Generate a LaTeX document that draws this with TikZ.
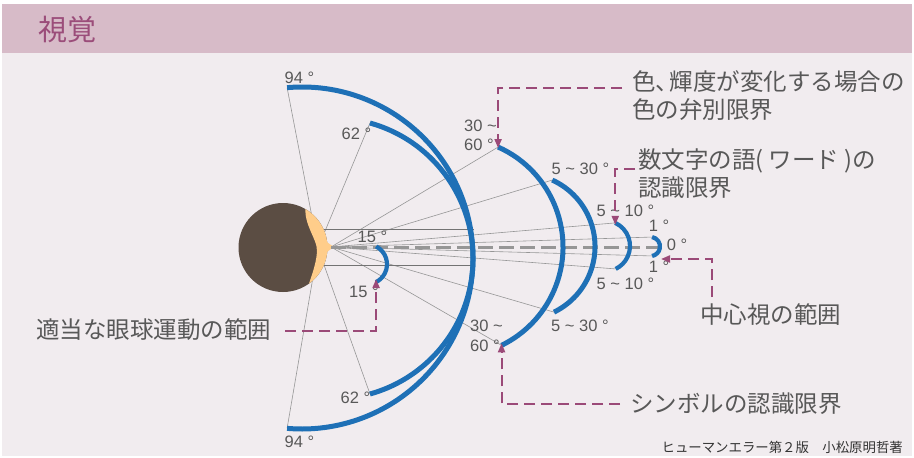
\documentclass[tikz,border=0pt]{standalone}
\usepackage{fontspec}
\setmainfont{Liberation Sans}
\newfontfamily\jp{Noto Sans CJK JP}
\usetikzlibrary{arrows.meta}
\definecolor{pagebg}{RGB}{241,236,239}
\definecolor{band}{RGB}{215,187,200}
\definecolor{titlec}{RGB}{155,77,122}
\definecolor{arcblue}{RGB}{30,112,182}
\definecolor{txt}{RGB}{88,88,88}
\definecolor{calloutc}{RGB}{155,74,120}
\definecolor{hair}{RGB}{91,77,67}
\definecolor{skin}{RGB}{255,205,138}
\definecolor{raygray}{RGB}{150,150,150}
\definecolor{axisgray}{RGB}{150,150,150}
\newcommand\rng{\ \textasciitilde\ }
\begin{document}
\begin{tikzpicture}[x=1pt,y=-1pt,
  fov/.style={draw=arcblue,line width=5pt},
  fovsmall/.style={draw=arcblue,line width=4.2pt},
  ray/.style={draw=raygray,line width=0.6pt},
  level/.style={draw=black!55,line width=0.6pt},
  deg/.style={text=txt,font=\fontsize{16.5}{19}\selectfont,inner sep=0pt},
  lbl/.style={text=txt,font=\jp\fontsize{23.5}{28}\selectfont,inner sep=0pt,align=left},
  callout/.style={draw=calloutc,line width=2pt,dash pattern=on 11pt off 6pt,
    -{Triangle[length=9pt,width=7pt]}},
]
\useasboundingbox (0,0) rectangle (914,458);
\fill[white] (0,0) rectangle (914,458);
\fill[pagebg] (2,4) rectangle (912,456);
\fill[band] (2,4) rectangle (912,53);
\node[text=titlec,font=\jp\fontsize{29}{32}\selectfont,inner sep=0pt] (title) at (67,29) {視覚};

% viewpoints
\coordinate (eye) at (318,248);
\coordinate (nose) at (331,247);

% arc centres
\coordinate (c94) at (302,258);
\coordinate (c62) at (332.4,258.5);
\coordinate (c3060) at (453.6,247);
\coordinate (c530) at (522,246.5);
\coordinate (c510) at (604.5,246);
\coordinate (c1) at (650.4,246.5);
\coordinate (c15) at (367,264.25);

% arc end points
\path (c94) ++(-95:171) coordinate (a94t);
\path (c94) ++(95:171) coordinate (a94b);
\path (c62) ++(-74.5:140.6) coordinate (a62t);
\path (c62) ++(74.5:140.6) coordinate (a62b);
\path (c3060) ++(-66:109.4) coordinate (a3060t);
\path (c3060) ++(64:109.4) coordinate (a3060b);
\path (c530) ++(-65.5:73) coordinate (a530t);
\path (c530) ++(64:73) coordinate (a530b);
\path (c510) ++(-65:25.5) coordinate (a510t);
\path (c510) ++(64:25.5) coordinate (a510b);
\path (c1) ++(-80:9.6) coordinate (a1t);
\path (c1) ++(80:9.6) coordinate (a1b);
\path (c15) ++(-63:20) coordinate (a15t);
\path (c15) ++(63:20) coordinate (a15b);

% sight lines
\draw[ray] (eye) -- (a94t);
\draw[ray] (eye) -- (a94b);
\draw[ray] (eye) -- (a62t);
\draw[ray] (eye) -- (a62b);
\foreach \p in {a3060t,a3060b,a530t,a530b,a510t,a510b,a1t,a1b}
  \draw[ray] (nose) -- (\p);
\draw[level] (305,229) -- (474,229);
\draw[level] (305,265) -- (474,265);

% head
\fill[hair] (283,247.5) circle (44.5);
\begin{scope}
  \clip (283,247.5) circle (44.5);
  \fill[skin] (307,200) .. controls (300,222) and (318,238) .. (317,252)
    .. controls (316,266) and (310,280) .. (305,295) -- (340,300) -- (340,195) -- cycle;
\end{scope}
\fill[skin] (324,239) .. controls (328,243) .. (334,247) .. controls (328,251) .. (324,255) -- cycle;

% line of sight
\draw[draw=axisgray,line width=3pt,dash pattern=on 15pt off 6pt] (nose) -- (658,247);

% visual field arcs
\draw[fov] (a94t) arc[start angle=-95,end angle=95,radius=171];
\draw[fov] (a62t) arc[start angle=-74.5,end angle=74.5,radius=140.6];
\draw[fov] (a3060t) arc[start angle=-66,end angle=64,radius=109.4];
\draw[fov] (a530t) arc[start angle=-65.5,end angle=64,radius=73];
\draw[fovsmall] (a510t) arc[start angle=-65,end angle=64,radius=25.5];
\draw[fovsmall] (a1t) arc[start angle=-80,end angle=80,radius=9.6];
\draw[fovsmall] (a15t) arc[start angle=-63,end angle=63,radius=20];

% angle labels
\node[deg] (d94t) at (299.5,78) {94 °};
\node[deg] (d62t) at (356.5,134) {62 °};
\node[deg] (d62b) at (355.5,398) {62 °};
\node[deg] (d94b) at (299.5,442) {94 °};
\node[deg,anchor=west] (d3060ta) at (464,126) {30 \textasciitilde};
\node[deg,anchor=west] (d3060tb) at (464,145) {60 °};
\node[deg,anchor=west] (d3060ba) at (470,326) {30 \textasciitilde};
\node[deg,anchor=west] (d3060bb) at (470,346) {60 °};
\node[deg] (d530t) at (580.5,169) {5\rng 30 °};
\node[deg] (d530b) at (580,326) {5\rng 30 °};
\node[deg] (d510t) at (625.5,210.5) {5\rng 10 °};
\node[deg] (d510b) at (625.5,283.5) {5\rng 10 °};
\node[deg] (d1t) at (659,226) {1 °};
\node[deg] (d1b) at (659,267) {1 °};
\node[deg] (d0) at (677,245) {0 °};
\node[deg] (d15t) at (372.5,237) {15 °};
\node[deg] (d15b) at (364,292) {15 °};

% captions
\node[lbl,anchor=west] (color) at (632,96) {色、\kern-0.4em 輝度が変化する場合の\\色の弁別限界};
\node[lbl,anchor=west] (word) at (638,174) {数文字の語( ワード )の\\認識限界};
\node[lbl,anchor=west] (central) at (700,315) {中心視の範囲};
\node[lbl,anchor=west] (symbol) at (630,404) {シンボルの認識限界};
\node[lbl,anchor=west] (eyemove) at (36,330) {適当な眼球運動の範囲};
\node[text=black!80,font=\jp\fontsize{13.4}{15}\selectfont,inner sep=0pt,anchor=east] (credit) at (903,447) {ヒューマンエラー第２版　小松原明哲著};

% callouts
\coordinate (k1) at (622,88);
\coordinate (k2) at (635,169);
\coordinate (k3) at (712,297);
\coordinate (k4) at (620,404);
\coordinate (k5) at (285,331);
\draw[callout] (k1) -| ([yshift=-1pt]a3060t);
\draw[callout] (k2) -| ([yshift=-2pt]a510t);
\draw[callout] (k3) |- ([xshift=2pt]659,259);
\draw[callout] (k4) -| ([yshift=2pt]a3060b);
\draw[callout] (k5) -| ([yshift=3pt]a15b);
\end{tikzpicture}
\end{document}
